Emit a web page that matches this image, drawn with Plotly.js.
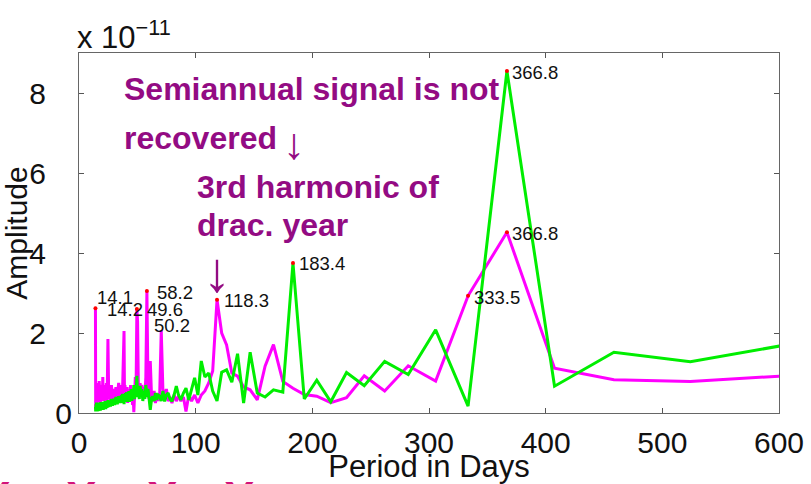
<!DOCTYPE html>
<html><head><meta charset="utf-8">
<script src="https://cdn.plot.ly/plotly-3.0.1.min.js"></script>
<style>html,body{margin:0;padding:0;background:#fff;}#chart{width:811px;height:484px;}</style>
</head><body><div id="chart"></div>
<script>
// Period in days (shared by both series)
const period = [
 14.1,14.3,14.6,14.8,15.0,15.3,15.5,15.8,16.1,16.4,16.7,17.0,17.3,17.6,18.0,18.3,18.7,19.1,19.5,19.9,
 20.4,20.8,21.3,21.8,22.4,22.9,23.5,24.1,24.8,25.5,26.2,27.0,27.8,28.7,29.6,30.6,31.6,32.8,34.0,35.3,
 36.7,37.1,37.4,37.8,38.2,38.6,39.0,39.4,39.9,40.3,40.8,41.2,41.7,42.2,42.7,43.2,43.7,44.2,44.7,45.3,
 45.9,46.4,47.0,47.6,48.3,48.9,49.6,50.2,50.9,51.7,52.4,53.2,53.9,54.7,55.6,56.4,57.3,58.2,59.2,
 60.1,61.1,62.2,63.2,64.4,65.5,66.7,67.9,69.2,70.5,71.9,73.4,74.9,76.4,78.0,79.7,81.5,83.4,85.3,87.3,
 89.5,91.7,94.1,96.5,99.1,
 101.9,104.8,107.9,111.2,114.6,118.3,122.3,126.5,131.0,135.9,141.1,146.7,152.8,159.5,166.7,174.7,
 183.4,193.1,203.8,215.8,229.3,244.5,262.0,282.2,305.7,333.5,366.8,407.6,458.5,524.0,611.3
];
// Amplitude (x 1e-11), magenta series
const ampMagenta = [
 2.62,0.15,0.55,0.3,0.7,0.25,0.6,0.35,0.75,0.28,0.65,0.3,0.8,0.35,0.6,0.25,0.7,0.4,0.55,0.3,
 0.9,0.35,0.7,0.3,0.65,0.4,0.75,0.3,1.85,0.35,0.6,0.3,0.7,0.35,0.6,0.3,0.65,0.4,0.75,0.3,
 0.7,0.3,0.8,0.45,1.2,2.05,0.4,0.7,0.3,0.6,0.35,0.65,0.25,0.55,0.3,0.6,0.4,0.7,0.3,0.5,
 0.2,0.45,0.02,0.4,0.9,0.5,2.6,2.3,0.6,0.45,0.75,0.4,0.7,0.45,0.65,0.4,0.9,3.05,0.5,
 0.35,1.3,0.4,0.3,0.55,0.25,0.45,0.3,0.5,2.07,0.6,0.35,0.6,0.3,0.4,0.25,0.45,0.3,0.42,0.3,
 0.4,0.04,0.45,0.3,0.45,
 0.25,0.45,0.55,0.75,1.05,2.83,2.0,1.7,1.0,0.92,0.65,0.58,0.33,1.17,1.71,0.79,
 0.62,0.46,0.42,0.26,0.38,0.93,0.55,1.18,0.8,2.93,4.52,1.12,0.83,0.79,0.94
];
// Amplitude (x 1e-11), green series
const ampGreen = [
 0.15,0.04,0.22,0.08,0.26,0.05,0.2,0.04,0.24,0.08,0.18,0.05,0.26,0.1,0.22,0.06,0.27,0.08,0.2,0.1,
 0.28,0.08,0.25,0.12,0.3,0.1,0.27,0.13,0.32,0.15,0.3,0.16,0.35,0.18,0.36,0.2,0.4,0.22,0.42,0.25,
 0.45,0.25,0.48,0.28,0.42,0.22,0.45,0.28,0.5,0.3,0.52,0.28,0.45,0.32,0.55,0.28,0.5,0.35,0.6,0.3,
 0.55,0.38,0.7,0.35,0.58,0.42,0.93,0.4,0.62,0.35,0.68,0.4,0.6,0.3,0.55,0.35,0.7,0.4,0.6,
 0.3,0.08,0.35,0.42,0.3,0.5,0.33,0.45,0.42,0.3,0.55,0.29,0.45,0.5,0.35,0.29,0.45,0.67,0.45,0.33,
 0.5,0.62,0.33,0.6,0.88,
 0.45,1.3,0.9,1.0,0.55,0.3,1.02,1.08,0.77,1.48,0.25,1.52,0.5,0.4,0.58,0.52,
 3.75,0.35,0.82,0.28,1.01,0.68,1.29,0.96,2.08,0.17,8.55,0.67,1.52,1.28,1.73
];
// Marked peaks
const peakPeriod = [14.1, 49.6, 58.2, 118.3, 183.4, 333.5, 366.8, 366.8];
const peakAmp    = [2.62, 2.6, 3.05, 2.83, 3.75, 2.93, 4.52, 8.55];
// Peak label texts
const peakLabels = ["14.1","14.2","58.2","49.6","50.2","118.3","183.4","366.8","366.8","333.5"];
const xTicks = [0,100,200,300,400,500,600];
const yTicks = [2,4,6,8];

const FONT = "Liberation Sans, Arial, Helvetica, sans-serif";
const PURPLE = "#930b83";

// label anchor points (data units) for peakLabels, same order
const labelAt = [[13.6,2.9],[22.2,2.58],[65.1,3.02],[56.5,2.58],[62.5,2.2],[122.2,2.82],[186.5,3.73],[369.4,8.52],[369.4,4.5],[336.5,2.9]];

const annotations = peakLabels.map((t,i)=>({
  x: labelAt[i][0], y: labelAt[i][1], xref:'x', yref:'y', text: t, showarrow:false,
  xanchor:'left', yanchor:'middle', font:{family:FONT,size:18.5,color:'#111'}
}));

const purpleText = [
  {x:36.6, y:8.1, text:'<b>Semiannual signal is not</b>'},
  {x:36.6, y:6.88, text:'<b>recovered</b>'},
  {x:99.3, y:5.66, text:'<b>3rd harmonic of</b>'},
  {x:99.3, y:4.71, text:'<b>drac. year</b>'}
];
purpleText.forEach(p=>annotations.push({x:p.x,y:p.y,xref:'x',yref:'y',text:p.text,showarrow:false,
  xanchor:'left',yanchor:'middle',font:{family:FONT,size:32,color:PURPLE}}));
annotations.push({x:184.3,y:6.75,xref:'x',yref:'y',text:'↓',showarrow:false,xanchor:'center',yanchor:'middle',
  font:{family:FONT,size:44,color:PURPLE}});
annotations.push({x:118.3,y:3.55,xref:'x',yref:'y',text:'↓',showarrow:false,xanchor:'center',yanchor:'middle',
  font:{family:FONT,size:56,color:PURPLE}});

// exponent
annotations.push({x:0,y:1,xref:'paper',yref:'paper',xanchor:'left',yanchor:'bottom',showarrow:false,
  text:'x 10<sup>−11</sup>',font:{family:FONT,size:31,color:'#111'},yshift:-4,xshift:-4});

// pink X's at bottom (slide decoration, partly cut off)
[-0.119,0.0029,0.119,0.229].forEach(xx=>annotations.push({x:xx,y:-0.158,xref:'paper',yref:'paper',text:'<b>X</b>',
  showarrow:false,xanchor:'center',yanchor:'top',font:{family:FONT,size:46,color:'#d2147a'}}));

const data = [
  {x:period, y:ampMagenta, type:'scatter', mode:'lines', line:{color:'#ff00ff',width:3}, hoverinfo:'skip'},
  {x:period, y:ampGreen, type:'scatter', mode:'lines', line:{color:'#00ee00',width:3}, hoverinfo:'skip'},
  {x:peakPeriod, y:peakAmp, type:'scatter', mode:'markers', marker:{color:'#ff0000',size:4}, hoverinfo:'skip'},
  {x:[null], y:[null], yaxis:'y2', type:'scatter', mode:'lines', showlegend:false, hoverinfo:'skip'}
];

const layout = {
  width:811, height:484,
  margin:{l:79,r:32,t:53,b:71,pad:0},
  paper_bgcolor:'#fff', plot_bgcolor:'#fff',
  showlegend:false,
  font:{family:FONT,color:'#111'},
  xaxis:{range:[0,600], tickvals:xTicks, ticks:'inside', ticklen:5, tickcolor:'#555',
    showline:true, linecolor:'#666', linewidth:1, mirror:'ticks', showgrid:false, zeroline:false,
    tickfont:{family:FONT,size:30,color:'#111'}, ticklabelstandoff:3,
    title:{text:'Period in Days', font:{family:FONT,size:31,color:'#111'}, standoff:0}},
  yaxis:{range:[0,9], tickvals:yTicks, ticks:'inside', ticklen:5, tickcolor:'#555',
    showline:true, linecolor:'#666', linewidth:1, mirror:'ticks', showgrid:false, zeroline:false,
    tickfont:{family:FONT,size:30,color:'#111'}, ticklabelstandoff:26,
    title:{text:'Amplitude', font:{family:FONT,size:30,color:'#111'}, standoff:0}},
  yaxis2:{range:[0,9], overlaying:'y', side:'left', tickvals:[0], ticks:'', showline:false,
    showgrid:false, zeroline:false, tickfont:{family:FONT,size:30,color:'#111'}, ticklabelstandoff:6},
  annotations:annotations
};
Plotly.newPlot('chart', data, layout, {staticPlot:true});
</script></body></html>
